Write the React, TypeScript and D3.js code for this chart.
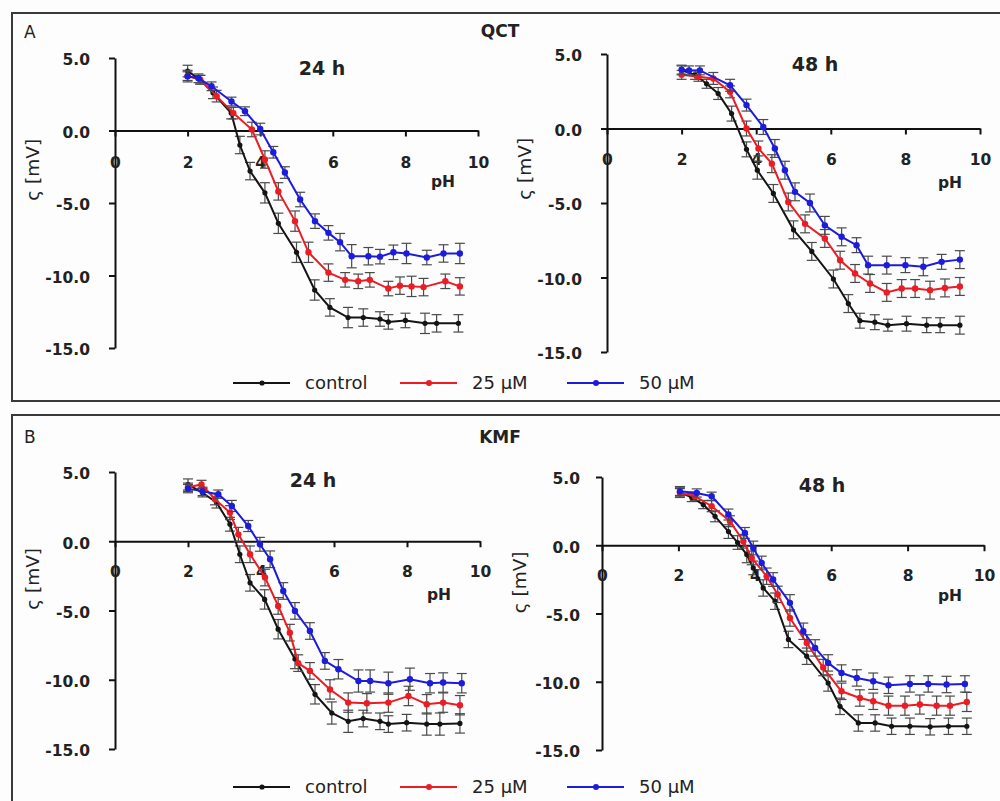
import React, { useEffect, useRef } from 'react';
import * as d3 from 'd3';

// axis ticks
const xTicks = [0, 2, 4, 6, 8, 10];
const yTicks = [5, 0, -5, -10, -15];
const seriesNames = ['control', '25 µM', '50 µM'];
const seriesColors = ['#141414', '#ec1c24', '#1c1cdc'];
const groupNames = ['QCT', 'KMF'];
const groupLetters = ['A', 'B'];
const timeNames = ['24 h', '48 h'];

// QCT, 24 h
const qct24PhControl = [2.0, 2.35, 2.7, 3.2, 3.44, 3.72, 4.13, 4.5, 5.0, 5.5, 5.92, 6.42, 6.84, 7.3, 7.53, 8.0, 8.54, 8.86, 9.46];
const qct24Control = [4.1, 3.5, 2.6, 1.2, -1.0, -2.8, -4.3, -6.4, -8.4, -11.0, -12.2, -12.9, -12.9, -13.0, -13.2, -13.1, -13.3, -13.3, -13.3];
const qct24ErrControl = [0.4, 0.3, 0.4, 0.4, 0.6, 0.6, 0.7, 0.7, 0.7, 0.7, 0.6, 0.7, 0.6, 0.5, 0.5, 0.5, 0.7, 0.6, 0.6];
const qct24Ph25 = [2.0, 2.35, 2.8, 3.26, 3.77, 4.13, 4.5, 4.96, 5.33, 5.88, 6.34, 6.7, 7.02, 7.53, 7.85, 8.17, 8.5, 9.1, 9.5];
const qct24Val25 = [3.75, 3.5, 2.37, 1.2, 0.07, -2.0, -4.2, -6.25, -8.4, -9.8, -10.3, -10.4, -10.3, -10.9, -10.7, -10.75, -10.8, -10.4, -10.75];
const qct24Err25 = [0.4, 0.3, 0.4, 0.4, 0.5, 0.6, 0.6, 0.7, 0.7, 0.6, 0.5, 0.5, 0.5, 0.5, 0.6, 0.7, 0.6, 0.5, 0.6];
const qct24Ph50 = [2.0, 2.3, 2.66, 3.21, 3.58, 4.0, 4.36, 4.68, 5.1, 5.51, 5.88, 6.2, 6.52, 6.98, 7.3, 7.67, 8.03, 8.59, 9.05, 9.5];
const qct24Val50 = [3.75, 3.6, 3.05, 2.0, 1.33, 0.1, -1.5, -2.9, -4.76, -6.25, -7.06, -7.7, -8.67, -8.67, -8.7, -8.4, -8.48, -8.76, -8.48, -8.48];
const qct24Err50 = [0.3, 0.3, 0.3, 0.3, 0.3, 0.4, 0.4, 0.4, 0.5, 0.5, 0.5, 0.6, 0.8, 0.6, 0.5, 0.5, 0.7, 0.5, 0.6, 0.7];

// QCT, 48 h
const qct48PhControl = [2.0, 2.36, 2.67, 2.98, 3.34, 3.74, 4.03, 4.46, 5.0, 5.49, 6.07, 6.47, 6.78, 7.18, 7.53, 8.03, 8.57, 8.93, 9.46];
const qct48Control = [3.9, 3.6, 3.0, 2.35, 1.0, -1.4, -2.8, -4.36, -6.8, -8.25, -10.1, -11.75, -12.9, -13.0, -13.2, -13.1, -13.2, -13.2, -13.2];
const qct48ErrControl = [0.3, 0.3, 0.3, 0.4, 0.5, 0.5, 0.6, 0.6, 0.6, 0.6, 0.6, 0.6, 0.5, 0.5, 0.4, 0.5, 0.5, 0.5, 0.6];
const qct48Ph25 = [2.0, 2.45, 2.85, 3.3, 3.74, 4.06, 4.42, 4.86, 5.31, 5.84, 6.25, 6.65, 7.05, 7.5, 7.9, 8.26, 8.66, 9.06, 9.46];
const qct48Val25 = [3.6, 3.47, 3.36, 2.46, 0.0, -1.34, -2.36, -4.93, -6.4, -7.38, -8.84, -9.73, -10.4, -11.0, -10.74, -10.74, -10.85, -10.7, -10.6];
const qct48Err25 = [0.3, 0.3, 0.4, 0.4, 0.5, 0.5, 0.6, 0.6, 0.6, 0.6, 0.6, 0.6, 0.6, 0.6, 0.6, 0.6, 0.6, 0.6, 0.6];
const qct48Ph50 = [2.0, 2.2, 2.49, 3.3, 3.74, 4.19, 4.5, 4.77, 5.04, 5.44, 5.84, 6.29, 6.69, 7.0, 7.5, 8.0, 8.48, 8.97, 9.46];
const qct48Val50 = [3.95, 3.9, 3.9, 2.9, 1.57, 0.1, -1.34, -2.8, -4.25, -5.0, -6.5, -7.27, -7.83, -9.17, -9.17, -9.17, -9.28, -8.95, -8.8];
const qct48Err50 = [0.3, 0.3, 0.3, 0.4, 0.4, 0.5, 0.6, 0.6, 0.6, 0.6, 0.6, 0.6, 0.5, 0.6, 0.6, 0.5, 0.6, 0.5, 0.6];

// KMF, 24 h
const kmf24PhControl = [2.0, 2.4, 2.78, 3.15, 3.42, 3.7, 4.1, 4.47, 4.93, 5.48, 5.94, 6.39, 6.8, 7.26, 7.49, 7.99, 8.54, 8.9, 9.45];
const kmf24Control = [4.1, 3.5, 2.8, 1.23, -0.94, -3.0, -4.2, -6.35, -8.5, -11.05, -12.4, -13.0, -12.8, -13.0, -13.2, -13.1, -13.2, -13.2, -13.15];
const kmf24ErrControl = [0.4, 0.3, 0.4, 0.5, 0.6, 0.6, 0.7, 0.7, 0.7, 0.7, 0.8, 0.8, 0.6, 0.6, 0.6, 0.6, 0.8, 0.8, 0.7];
const kmf24Ph25 = [2.0, 2.37, 2.74, 3.15, 3.38, 3.7, 4.11, 4.47, 4.79, 5.02, 5.34, 5.89, 6.39, 6.9, 7.49, 8.04, 8.54, 8.99, 9.45];
const kmf24Val25 = [3.9, 4.1, 3.03, 2.07, 0.5, -0.94, -2.62, -4.67, -6.6, -8.8, -9.36, -10.7, -11.65, -11.7, -11.65, -11.17, -11.77, -11.65, -11.84];
const kmf24Err25 = [0.3, 0.3, 0.4, 0.5, 0.5, 0.6, 0.6, 0.6, 0.6, 0.6, 0.6, 0.7, 0.7, 0.7, 0.7, 0.7, 0.7, 0.7, 0.7];
const kmf24Ph50 = [2.0, 2.4, 2.83, 3.2, 3.65, 3.97, 4.25, 4.61, 4.93, 5.34, 5.75, 6.12, 6.67, 6.99, 7.49, 8.08, 8.63, 8.99, 9.5];
const kmf24Val50 = [3.8, 3.6, 3.4, 2.55, 1.1, -0.22, -1.3, -3.59, -5.03, -6.48, -8.64, -9.24, -10.09, -10.09, -10.25, -9.96, -10.25, -10.2, -10.25];
const kmf24Err50 = [0.3, 0.3, 0.3, 0.4, 0.4, 0.5, 0.6, 0.6, 0.6, 0.6, 0.6, 0.7, 0.8, 0.8, 0.8, 0.8, 0.7, 0.7, 0.7];

// KMF, 48 h
const kmf48PhControl = [2.04, 2.35, 2.65, 2.96, 3.31, 3.55, 3.79, 3.96, 4.22, 4.53, 4.88, 5.36, 5.92, 6.23, 6.71, 7.15, 7.58, 8.06, 8.59, 9.07, 9.55];
const kmf48Control = [3.9, 3.5, 2.98, 2.12, 1.0, 0.2, -0.68, -1.66, -3.13, -4.1, -6.9, -8.13, -10.09, -11.8, -13.02, -13.02, -13.26, -13.26, -13.3, -13.26, -13.26];
const kmf48ErrControl = [0.4, 0.3, 0.3, 0.4, 0.5, 0.5, 0.6, 0.5, 0.6, 0.6, 0.6, 0.6, 0.6, 0.6, 0.6, 0.6, 0.6, 0.6, 0.6, 0.6, 0.6];
const kmf48Ph25 = [2.04, 2.43, 2.87, 3.35, 3.7, 3.92, 4.31, 4.6, 4.92, 5.36, 5.79, 6.27, 6.75, 7.1, 7.5, 7.93, 8.32, 8.76, 9.11, 9.55];
const kmf48Val25 = [3.85, 3.59, 2.86, 1.76, 0.29, -0.93, -2.27, -3.6, -5.33, -7.16, -8.96, -10.7, -11.19, -11.43, -11.75, -11.75, -11.67, -11.75, -11.75, -11.48];
const kmf48Err25 = [0.3, 0.3, 0.4, 0.4, 0.5, 0.5, 0.6, 0.6, 0.6, 0.6, 0.6, 0.6, 0.6, 0.6, 0.7, 0.7, 0.7, 0.7, 0.7, 0.7];
const kmf48Ph50 = [2.04, 2.48, 2.87, 3.31, 3.74, 3.96, 4.18, 4.48, 4.92, 5.27, 5.58, 5.92, 6.27, 6.67, 7.1, 7.5, 8.06, 8.54, 9.02, 9.5];
const kmf48Val50 = [3.95, 3.83, 3.59, 2.25, 0.9, -0.2, -1.3, -2.51, -4.22, -6.3, -7.52, -8.62, -9.36, -9.72, -9.96, -10.26, -10.16, -10.16, -10.2, -10.16];
const kmf48Err50 = [0.3, 0.3, 0.3, 0.4, 0.4, 0.5, 0.5, 0.5, 0.6, 0.6, 0.6, 0.6, 0.6, 0.6, 0.6, 0.6, 0.6, 0.6, 0.6, 0.6];

const W = 1000;
const H = 801;
const FONT = '"DejaVu Sans", sans-serif';
const TEXT = '#222';

// one entry per sub-chart, pixel layout only
const panels = [
    { time: 0, ph: [qct24PhControl, qct24Ph25, qct24Ph50], val: [qct24Control, qct24Val25, qct24Val50], err: [qct24ErrControl, qct24Err25, qct24Err50],
      left: 115, right: 478, top: 58, bottom: 348, yPad: 19, xPad: 20, yLabelX: 33, titleX: 322, titleY: 75, phX: 443, phY: 187 },
    { time: 1, ph: [qct48PhControl, qct48Ph25, qct48Ph50], val: [qct48Control, qct48Val25, qct48Val50], err: [qct48ErrControl, qct48Err25, qct48Err50],
      left: 607, right: 980, top: 54, bottom: 352, yPad: 19, xPad: 19, yLabelX: 525, titleX: 815, titleY: 71, phX: 950, phY: 188 },
    { time: 0, ph: [kmf24PhControl, kmf24Ph25, kmf24Ph50], val: [kmf24Control, kmf24Val25, kmf24Val50], err: [kmf24ErrControl, kmf24Err25, kmf24Err50],
      left: 115, right: 480, top: 472, bottom: 749, yPad: 19, xPad: 19, yLabelX: 33, titleX: 313, titleY: 487, phX: 439, phY: 600 },
    { time: 1, ph: [kmf48PhControl, kmf48Ph25, kmf48Ph50], val: [kmf48Control, kmf48Val25, kmf48Val50], err: [kmf48ErrControl, kmf48Err25, kmf48Err50],
      left: 602, right: 984, top: 477, bottom: 750, yPad: 16, xPad: 19, yLabelX: 520, titleX: 822, titleY: 492, phX: 950, phY: 601 },
];

// outer framed boxes, A and B
const boxes = [
    { top: 13, bottom: 401, letterY: 38, titleY: 37, legendY: 383 },
    { top: 415, bottom: 820, letterY: 443, titleY: 443, legendY: 787 },
];

export default function App() {
    const ref = useRef<SVGSVGElement>(null);

    useEffect(() => {
        const svg = d3.select(ref.current);
        svg.selectAll('*').remove();

        svg.append('rect').attr('width', W).attr('height', H).attr('fill', '#fdfdfd');

        boxes.forEach((b, bi) => {
            svg.append('rect')
                .attr('x', 12).attr('y', b.top)
                .attr('width', 1000).attr('height', b.bottom - b.top)
                .attr('fill', 'none').attr('stroke', '#3a3a3a').attr('stroke-width', 2);

            svg.append('text')
                .attr('x', 24).attr('y', b.letterY)
                .attr('font-family', FONT).attr('font-size', 17).attr('fill', TEXT)
                .text(groupLetters[bi]);

            svg.append('text')
                .attr('x', 500).attr('y', b.titleY)
                .attr('text-anchor', 'middle')
                .attr('font-family', FONT).attr('font-size', 17).attr('font-weight', 'bold').attr('fill', TEXT)
                .text(groupNames[bi]);

            // legend
            seriesNames.forEach((name, i) => {
                const lx = 233 + i * 167;
                const lg = svg.append('g');
                lg.append('line')
                    .attr('x1', lx).attr('x2', lx + 57)
                    .attr('y1', b.legendY).attr('y2', b.legendY)
                    .attr('stroke', seriesColors[i]).attr('stroke-width', 2);
                lg.append('circle')
                    .attr('cx', lx + 29).attr('cy', b.legendY).attr('r', i === 0 ? 2.6 : 3)
                    .attr('fill', seriesColors[i]);
                lg.append('text')
                    .attr('x', lx + 72).attr('y', b.legendY + 6)
                    .attr('font-family', FONT).attr('font-size', 18).attr('fill', TEXT)
                    .text(name);
            });
        });

        panels.forEach(p => {
            const x = d3.scaleLinear().domain([0, 10]).range([p.left, p.right]);
            const y = d3.scaleLinear().domain([-15, 5]).range([p.bottom, p.top]);
            const g = svg.append('g');

            // y axis
            const yAxis = d3.axisLeft(y)
                .tickValues(yTicks)
                .tickFormat(d => (+d).toFixed(1))
                .tickSizeInner(6).tickSizeOuter(0)
                .tickPadding(p.yPad);
            const ya = g.append('g').attr('transform', `translate(${x(0)},0)`).call(yAxis);

            // x axis along zero
            const xAxis = d3.axisBottom(x)
                .tickValues(xTicks)
                .tickFormat(d => String(d))
                .tickSizeInner(6).tickSizeOuter(0)
                .tickPadding(p.xPad);
            const xa = g.append('g').attr('transform', `translate(0,${y(0)})`).call(xAxis);

            [ya, xa].forEach(a => {
                a.attr('font-family', FONT).attr('font-size', 15.5).attr('font-weight', 'bold');
                a.select('.domain').attr('stroke', '#111').attr('stroke-width', 2);
                a.selectAll('.tick line').attr('stroke', '#111').attr('stroke-width', 2);
                a.selectAll('.tick text').attr('fill', TEXT);
            });
            ya.selectAll('.tick text').attr('dy', '0.45em');

            // labels
            g.append('text')
                .attr('transform', `translate(${p.yLabelX + 6},${(y(0) + y(-5)) / 2 + 3}) rotate(-90)`)
                .attr('text-anchor', 'middle')
                .attr('font-family', FONT).attr('font-size', 18.5).attr('fill', TEXT)
                .text('ς [mV]');
            g.append('text')
                .attr('x', p.titleX).attr('y', p.titleY)
                .attr('text-anchor', 'middle')
                .attr('font-family', FONT).attr('font-size', 19).attr('font-weight', 'bold').attr('fill', TEXT)
                .text(timeNames[p.time]);
            g.append('text')
                .attr('x', p.phX).attr('y', p.phY)
                .attr('text-anchor', 'middle')
                .attr('font-family', FONT).attr('font-size', 15.5).attr('font-weight', 'bold').attr('fill', TEXT)
                .text('pH');

            const line = d3.line<[number, number]>()
                .x(d => x(d[0]))
                .y(d => y(d[1]));

            seriesNames.forEach((_, si) => {
                const pts: [number, number][] = p.ph[si].map((ph, k) => [ph, p.val[si][k]]);
                const errs = p.err[si];
                const sg = g.append('g');

                // error bars
                pts.forEach((d, k) => {
                    const cx = x(d[0]);
                    const y1 = y(d[1] - errs[k]);
                    const y2 = y(d[1] + errs[k]);
                    sg.append('line').attr('x1', cx).attr('x2', cx).attr('y1', y1).attr('y2', y2)
                        .attr('stroke', '#4a4a4a').attr('stroke-width', 1.2);
                    [y1, y2].forEach(yy => {
                        sg.append('line').attr('x1', cx - 5).attr('x2', cx + 5).attr('y1', yy).attr('y2', yy)
                            .attr('stroke', '#4a4a4a').attr('stroke-width', 1.2);
                    });
                });

                sg.append('path')
                    .datum(pts)
                    .attr('d', line)
                    .attr('fill', 'none')
                    .attr('stroke', seriesColors[si])
                    .attr('stroke-width', 2);

                sg.selectAll('circle.pt')
                    .data(pts)
                    .enter().append('circle')
                    .attr('class', 'pt')
                    .attr('cx', d => x(d[0]))
                    .attr('cy', d => y(d[1]))
                    .attr('r', si === 0 ? 2.6 : 3.2)
                    .attr('fill', seriesColors[si]);
            });
        });
    }, []);

    return (
        <svg ref={ref} width={W} height={H}
            style={{ position: 'absolute', left: 0, top: 0, display: 'block' }} />
    );
}
